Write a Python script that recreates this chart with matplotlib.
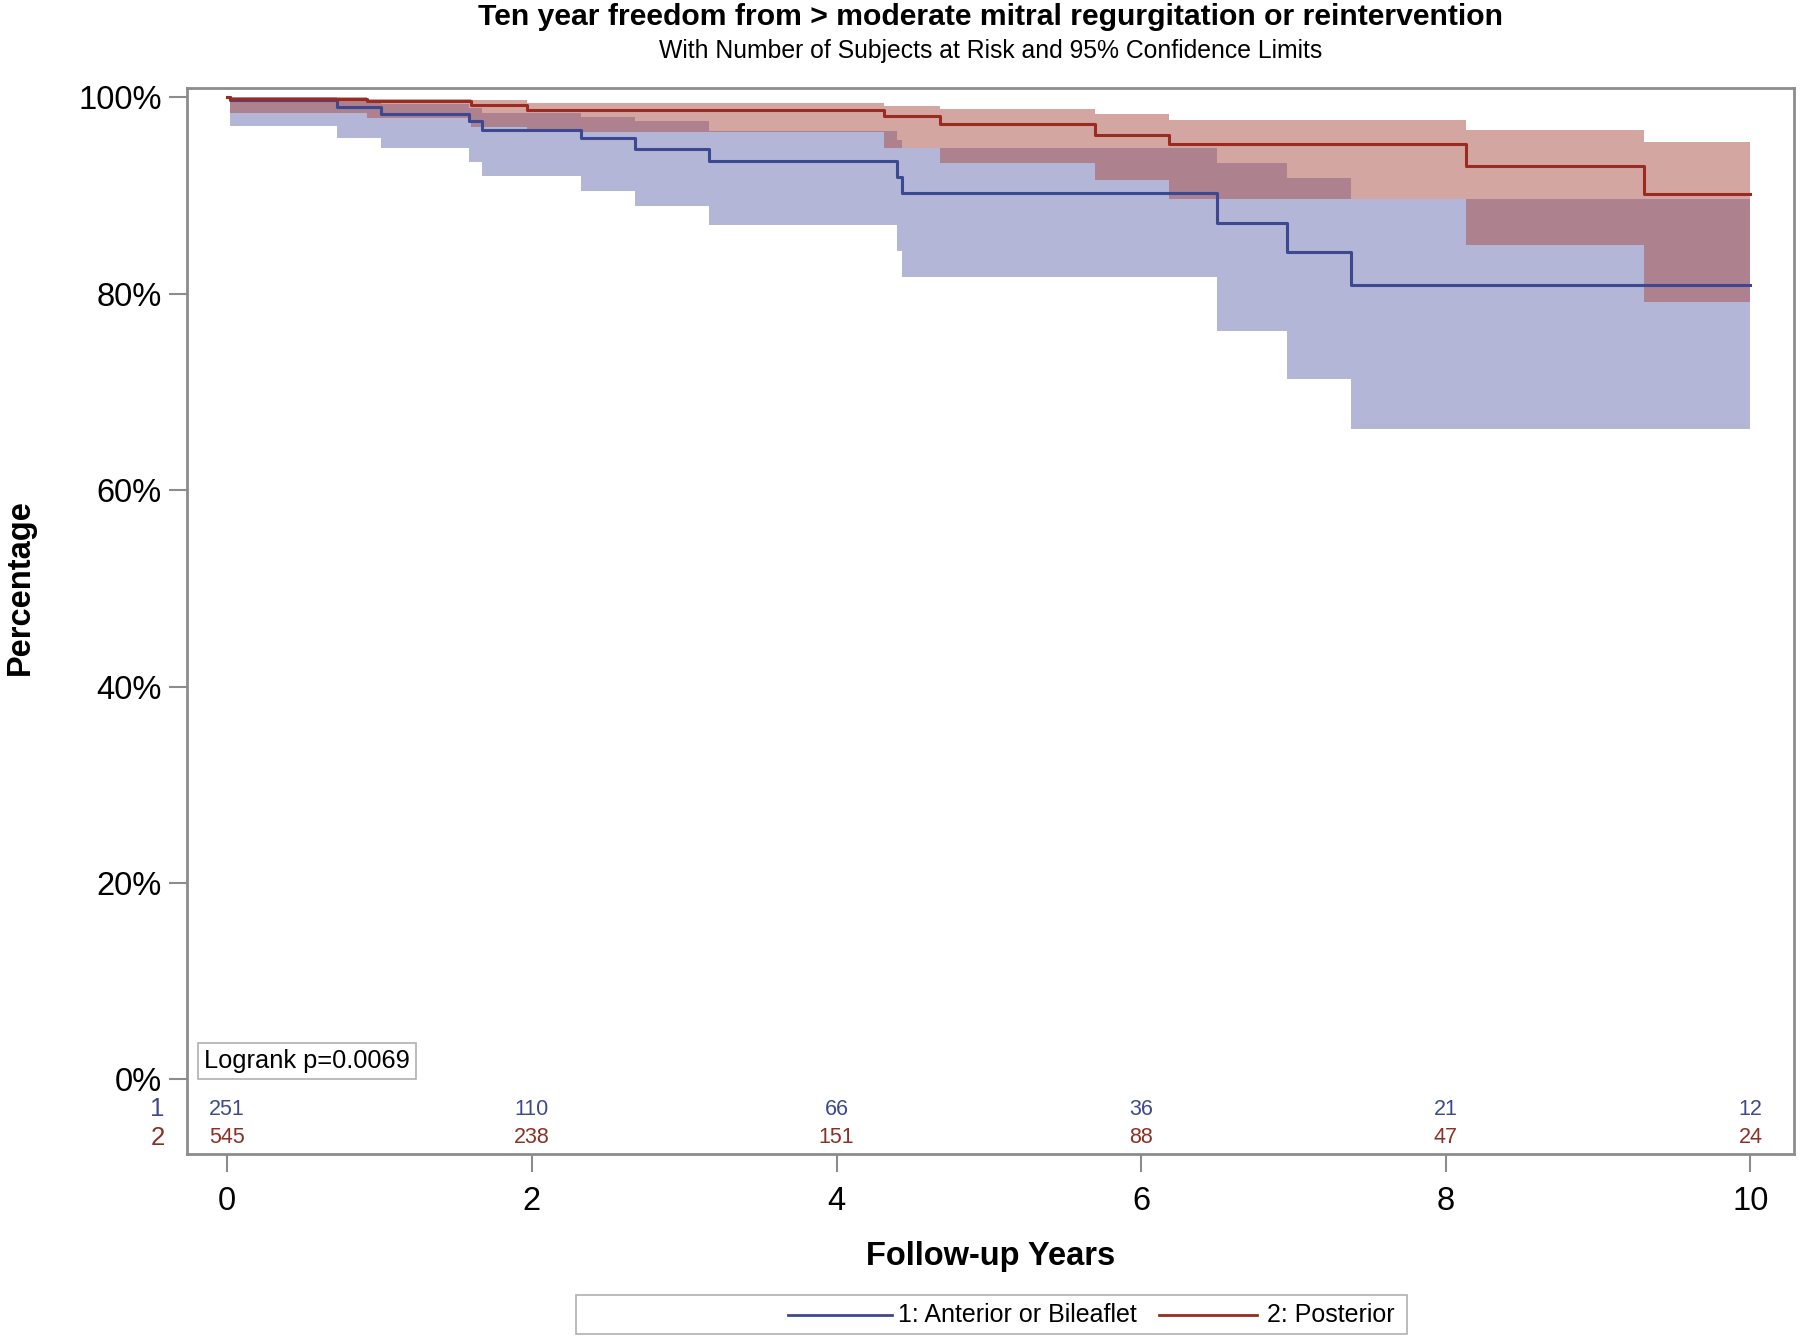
import matplotlib
matplotlib.use("Agg")
import matplotlib.pyplot as plt
from matplotlib.patches import Rectangle
from matplotlib.lines import Line2D
import matplotlib.transforms as mtransforms

plt.rcParams['font.family'] = ['Liberation Sans', 'DejaVu Sans']

# ---------------- data ----------------
# Group 1: Anterior or Bileaflet
t1 = [0, 0.02, 0.72, 1.01, 1.59, 1.67, 2.32, 2.68, 3.16, 4.40, 4.43, 6.50, 6.96, 7.38]
s1 = [100, 99.75, 99.0, 98.3, 97.55, 96.7, 95.8, 94.7, 93.5, 91.9, 90.25, 87.2, 84.2, 80.9]
lo1 = [100, 97.1, 95.85, 94.8, 93.4, 92.0, 90.5, 88.9, 87.0, 84.3, 81.7, 76.2, 71.3, 66.2]
hi1 = [100, 100, 99.6, 99.3, 98.9, 98.4, 98.0, 97.55, 96.6, 95.6, 94.8, 93.3, 91.8, 89.6]

# Group 2: Posterior
t2 = [0, 0.02, 0.92, 1.60, 1.97, 4.31, 4.68, 5.70, 6.18, 8.13, 9.30]
s2 = [100, 99.8, 99.6, 99.25, 98.7, 98.05, 97.3, 96.2, 95.2, 93.0, 90.1]
lo2 = [100, 98.4, 97.9, 97.0, 96.5, 94.8, 93.3, 91.6, 89.6, 85.0, 79.2]
hi2 = [100, 100, 99.85, 99.75, 99.45, 99.1, 98.8, 98.3, 97.65, 96.7, 95.4]

t_end = 10

risk_times = [0, 2, 4, 6, 8, 10]
risk1 = [251, 110, 66, 36, 21, 12]
risk2 = [545, 238, 151, 88, 47, 24]

group_labels = ["1: Anterior or Bileaflet", "2: Posterior"]
yticks = [0, 20, 40, 60, 80, 100]
ytick_labels = ["0%", "20%", "40%", "60%", "80%", "100%"]
xticks = [0, 2, 4, 6, 8, 10]

# ---------------- style ----------------
blue_line = '#3D4893'
red_line = '#9B2B20'
blue_fill = (104/255, 110/255, 174/255)
red_fill = (168/255, 78/255, 70/255)
blue_txt = '#3F4A8E'
red_txt = '#8A3024'
gray = '#8c8c8c'

W, H = 1800, 1339
fig = plt.figure(figsize=(W/100, H/100), dpi=100)
ax = fig.add_axes([187/W, 1-1154/H, (1794-187)/W, (1154-88)/H])

def ext(t, v):
    return list(t) + [t_end], list(v) + [v[-1]]

x1, y1 = ext(t1, s1); _, l1 = ext(t1, lo1); _, h1 = ext(t1, hi1)
x2, y2 = ext(t2, s2); _, l2 = ext(t2, lo2); _, h2 = ext(t2, hi2)

ax.fill_between(x1, l1, h1, step='post', color=blue_fill, alpha=0.5, lw=0)
ax.fill_between(x2, l2, h2, step='post', color=red_fill, alpha=0.5, lw=0)
ax.step(x1, y1, where='post', color=blue_line, lw=2.2)
ax.step(x2, y2, where='post', color=red_line, lw=2.2)

ax.set_xlim(-0.264, 10.286)
ax.set_ylim(-7.6, 100.94)
ax.set_yticks(yticks)
ax.set_yticklabels(ytick_labels)
ax.set_xticks(xticks)
ax.tick_params(axis='both', direction='out', length=13, width=1.5, color=gray,
               labelsize=23.5, pad=5)
ax.tick_params(axis='x', pad=10)
for sp in ax.spines.values():
    sp.set_color(gray)
    sp.set_linewidth(2)

# at-risk table
trans = mtransforms.blended_transform_factory(ax.transAxes, ax.transData)
for xt, n1, n2 in zip(risk_times, risk1, risk2):
    ax.text(xt, -3.05, str(n1), color=blue_txt, fontsize=15.5, ha='center', va='center')
    ax.text(xt, -5.95, str(n2), color=red_txt, fontsize=15.5, ha='center', va='center')
ax.text(-0.014, -3.05, "1", color=blue_txt, fontsize=18.5, ha='right', va='center', transform=trans)
ax.text(-0.014, -5.95, "2", color=red_txt, fontsize=18.5, ha='right', va='center', transform=trans)

# logrank box
ax.text(0.0105, 0.076, "Logrank p=0.0069", transform=ax.transAxes, fontsize=18.3,
        ha='left', va='bottom',
        bbox=dict(boxstyle='square,pad=0.25', fc='white', ec='#b0b0b0', lw=1.2))

# titles and labels
cx = (187 + 1794) / 2 / W
fig.text(cx, 1 - 17/H, "Ten year freedom from > moderate mitral regurgitation or reintervention",
         ha='center', va='center', fontsize=21.7, fontweight='bold')
fig.text(cx, 1 - 51/H, "With Number of Subjects at Risk and 95% Confidence Limits",
         ha='center', va='center', fontsize=17.8)
fig.text(cx, 1 - 1256/H, "Follow-up Years", ha='center', va='center', fontsize=23.5, fontweight='bold')
fig.text(20/W, 1 - 587/H, "Percentage", ha='center', va='center', rotation=90,
         fontsize=23.5, fontweight='bold')

# legend
lx0, lx1, ly0, ly1 = 576/W, 1407/W, 1 - 1334/H, 1 - 1295/H
fig.patches.append(Rectangle((lx0, ly0), lx1-lx0, ly1-ly0, transform=fig.transFigure,
                             fc='white', ec='#b0b0b0', lw=1.2))
ym = (ly0 + ly1) / 2
fig.lines.append(Line2D([788/W, 892/W], [ym, ym], transform=fig.transFigure, color=blue_line, lw=2))
fig.text(898/W, ym, group_labels[0], ha='left', va='center', fontsize=18)
fig.lines.append(Line2D([1159/W, 1257/W], [ym, ym], transform=fig.transFigure, color=red_line, lw=2))
fig.text(1267/W, ym, group_labels[1], ha='left', va='center', fontsize=18)

fig.savefig("out.png", dpi=100)
